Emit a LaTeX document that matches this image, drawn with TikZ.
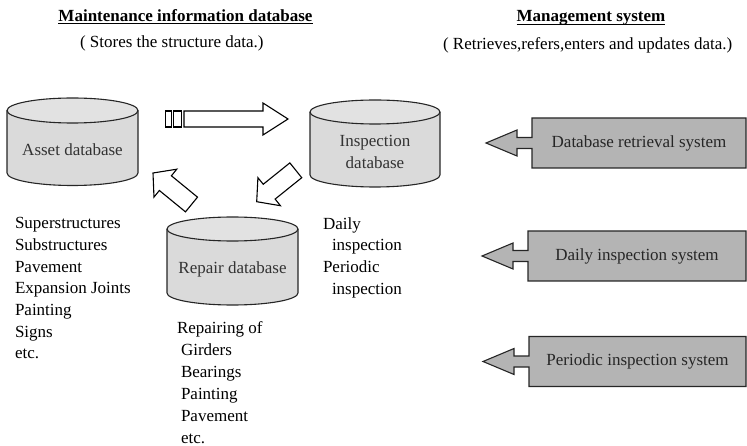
\documentclass[tikz,border=0pt]{standalone}
\usepackage{fontspec}
\setmainfont{Liberation Serif}
\usetikzlibrary{calc}
\definecolor{cylfill}{RGB}{218,218,218}
\definecolor{cyltop}{RGB}{226,226,226}
\definecolor{sysfill}{RGB}{180,180,180}
\tikzset{
  txt/.style={font=\fontsize{17}{21.7}\selectfont, inner sep=0pt, outer sep=0pt},
  boldtxt/.style={font=\fontsize{17}{21.7}\selectfont\bfseries, inner sep=0pt, outer sep=0pt},
  cyllabel/.style={txt, text=black!80},
  cylline/.style={line width=1.1pt, draw=black!85},
  blockarrow/.style={draw=black, line width=1.1pt, fill=white, line join=miter},
  sysbox/.style={draw=black!85, line width=1.1pt, fill=sysfill},
  ulin/.style={line width=0.9pt},
}
% cylinder: x1, x2, ytop, ybottom, y-radius
\newcommand\dbcyl[5]{%
  \pgfmathsetmacro\cylrx{(#2-#1)/2}%
  \fill[cylfill] (#1,#3) -- (#1,#4) arc[start angle=180,end angle=360,x radius=\cylrx pt,y radius=#5pt] -- (#2,#3) -- cycle;
  \draw[cylline] (#1,#3) -- (#1,#4) arc[start angle=180,end angle=360,x radius=\cylrx pt,y radius=#5pt] -- (#2,#3);
  \draw[cylline, fill=cyltop] ({(#1+#2)/2},#3) ellipse[x radius=\cylrx pt, y radius=#5pt];
}
% block arrow: name, tail, tip, shaft half width, head half width, head length
\newcommand\blockarr[6]{%
  \coordinate (#1b) at ($(#3)!#6pt!(#2)$);
  \draw[blockarrow] ($(#2)!#4pt!90:(#3)$) -- ($(#1b)!#4pt!90:(#3)$) -- ($(#1b)!#5pt!90:(#3)$) -- (#3)
    -- ($(#1b)!#5pt!-90:(#3)$) -- ($(#1b)!#4pt!-90:(#3)$) -- ($(#2)!#4pt!-90:(#3)$) -- cycle;
}
% system box with left arrow: name, left x, centre y, text
\newcommand\sysarrow[4]{%
  \draw[sysbox] (746,#3-25) -- (#2,#3-25) -- (#2,#3-5.5) -- (#2-15,#3-5.5) -- (#2-15,#3-13) -- (#2-46,#3)
    -- (#2-15,#3+13) -- (#2-15,#3+5.5) -- (#2,#3+5.5) -- (#2,#3+25) -- (746,#3+25) -- cycle;
  \node[txt, text=black!85] (#1) at ({(#2+746)/2},#3) {#4};
}
\begin{document}
\begin{tikzpicture}[x=1pt,y=-1pt]
\useasboundingbox (0,0) rectangle (747,446);

% titles
\node[boldtxt, anchor=base] (t1) at (185.5,22) {Maintenance information database};
\draw[ulin] ([yshift=-1.8pt]t1.base west) -- ([yshift=-1.8pt]t1.base east);
\node[txt, anchor=base west] (s1) at (80,48) {( Stores the structure data.)};
\node[boldtxt, anchor=base] (t2) at (591,22) {Management system};
\draw[ulin] ([yshift=-2.2pt]t2.base west) -- ([yshift=-2.2pt]t2.base east);
\node[txt, anchor=base west] (s2) at (443,50) {( Retrieves,refers,enters and updates data.)};

% cylinders
\dbcyl{7}{138}{110.5}{173}{12.5}
\dbcyl{310}{440}{112}{175}{12}
\dbcyl{167}{298}{229}{293}{12}
\node[cyllabel] (asset) at (72.5,150) {Asset database};
\node[cyllabel, align=center] (insp) at (375,152) {Inspection\\database};
\node[cyllabel] (repair) at (232.5,269) {Repair database};

% block arrows
\draw[blockarrow] (165.5,111) rectangle (171.5,127);
\draw[blockarrow] (173.5,111) rectangle (181.5,127);
\coordinate (a1t) at (184,119);
\coordinate (a1p) at (288,119);
\blockarr{a1}{a1t}{a1p}{8}{16}{25}
\coordinate (a2t) at (295.8,170.3);
\coordinate (a2p) at (256.7,201.7);
\blockarr{a2}{a2t}{a2p}{9.5}{18}{16}
\coordinate (a3t) at (191.5,204.5);
\coordinate (a3p) at (153,173);
\blockarr{a3}{a3t}{a3p}{9.5}{18}{16}

% lists
\node[txt, align=left, anchor=north west] (assetlist) at (15,217.5)
  {Superstructures\\Substructures\\Pavement\\Expansion Joints\\Painting\\Signs\\etc.};
\node[txt, align=left, anchor=north west] (insplist) at (323,217.4)
  {Daily\\\hspace*{9pt}inspection\\Periodic\\\hspace*{9pt}inspection};
\node[txt, font=\fontsize{17}{22}\selectfont, align=left, anchor=north west] (repairlist) at (177,321.4)
  {Repairing of\\\hspace*{4pt}Girders\\\hspace*{4pt}Bearings\\\hspace*{4pt}Painting\\\hspace*{4pt}Pavement\\\hspace*{4pt}etc.};

% management systems
\sysarrow{sys1}{532}{143}{Database retrieval system}
\sysarrow{sys2}{528}{256}{Daily inspection system}
\sysarrow{sys3}{529}{361.5}{Periodic inspection system}
\end{tikzpicture}
\end{document}
